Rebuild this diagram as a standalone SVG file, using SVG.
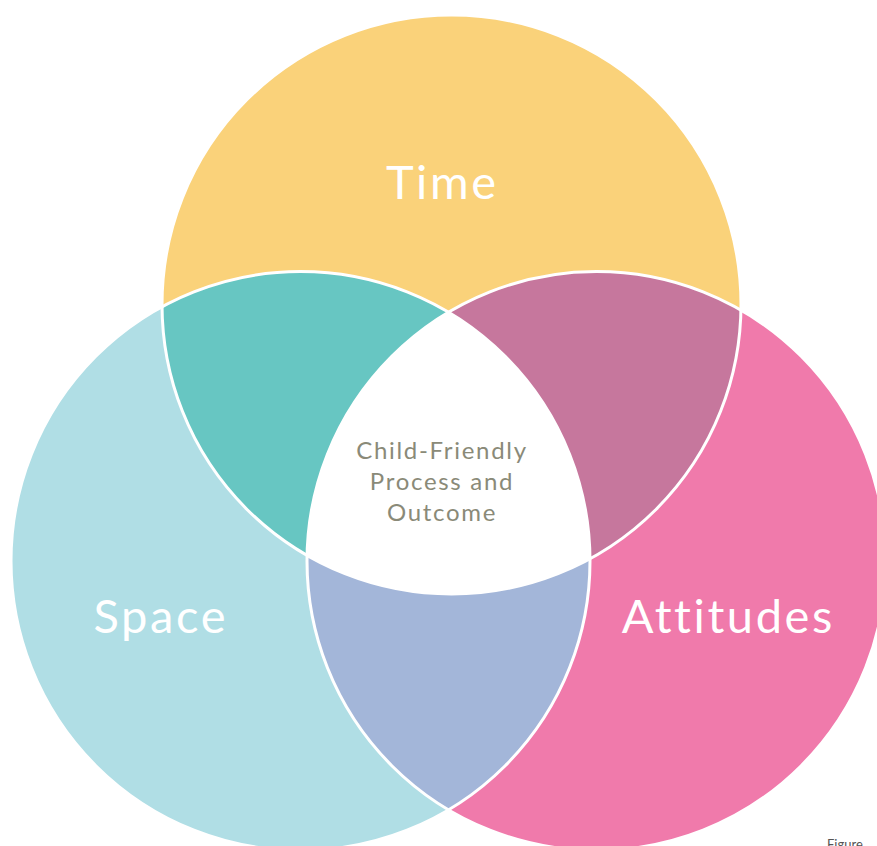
<svg xmlns="http://www.w3.org/2000/svg" width="877" height="846" viewBox="0 0 877 846">
  <style>
    .label { font-family: Lato, "Open Sans", "Liberation Sans", sans-serif; fill: #ffffff; font-size: 47px; letter-spacing: 2.6px; text-anchor: middle; }
    .center { font-family: Lato, "Open Sans", "Liberation Sans", sans-serif; fill: #8a8a78; font-size: 24px; letter-spacing: 1.7px; text-anchor: middle; }
    .edge { fill: none; stroke: #ffffff; stroke-width: 3; }
  </style>
  <defs>
    <circle id="cT" cx="451.5" cy="304.5" r="289.5"/>
    <circle id="cS" cx="300.5" cy="561" r="289.5"/>
    <circle id="cA" cx="596.5" cy="561" r="289.5"/>
    <clipPath id="clipT"><use href="#cT"/></clipPath>
    <clipPath id="clipS"><use href="#cS"/></clipPath>
    <clipPath id="clipA"><use href="#cA"/></clipPath>
  </defs>
  <rect width="877" height="846" fill="#ffffff"/>
  <g id="time">
    <use href="#cT" fill="#fad27a"/>
  </g>
  <g id="space">
    <use href="#cS" fill="#b0dee5"/>
  </g>
  <g id="attitudes">
    <use href="#cA" fill="#f07aab"/>
  </g>
  <g id="time-space" clip-path="url(#clipT)">
    <use href="#cS" fill="#67c6c2"/>
  </g>
  <g id="time-attitudes" clip-path="url(#clipT)">
    <use href="#cA" fill="#c6779d"/>
  </g>
  <g id="space-attitudes" clip-path="url(#clipS)">
    <use href="#cA" fill="#a3b6d9"/>
  </g>
  <g id="center-region" clip-path="url(#clipT)">
    <g clip-path="url(#clipS)">
      <use href="#cA" fill="#ffffff"/>
    </g>
  </g>
  <g id="connectors">
    <use href="#cT" class="edge"/>
    <use href="#cS" class="edge"/>
    <use href="#cA" class="edge"/>
  </g>
  <g id="labels">
    <text class="label" x="442.3" y="199">Time</text>
    <text class="label" x="160.8" y="633">Space</text>
    <text class="label" x="728.3" y="633">Attitudes</text>
  </g>
  <g id="center">
    <text class="center" x="442" y="459">Child-Friendly</text>
    <text class="center" x="442" y="490">Process and</text>
    <text class="center" x="442" y="521">Outcome</text>
  </g>
  <text x="827" y="849" font-family="Lato, 'Liberation Sans', sans-serif" font-size="13" fill="#555555">Figure</text>
</svg>
